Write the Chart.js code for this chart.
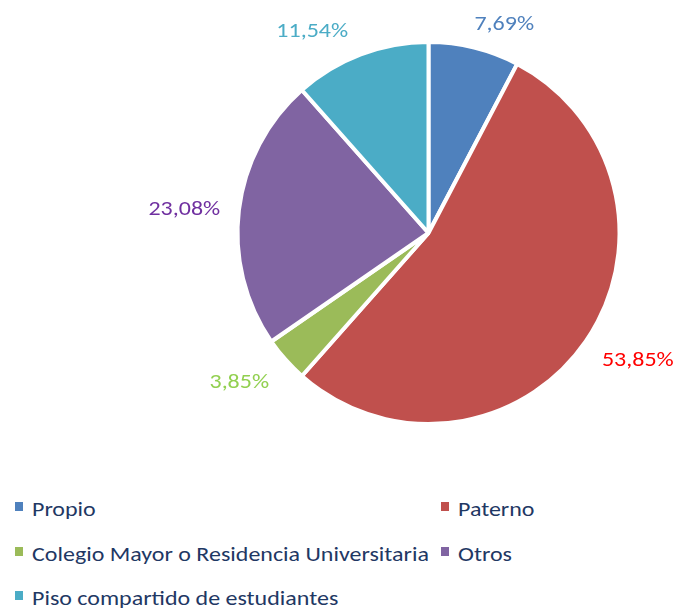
<!DOCTYPE html>
<html>
<head>
<meta charset="utf-8">
<script src="https://cdn.jsdelivr.net/npm/chart.js@4"></script>
<style>
    body { margin: 0; background: #fff; width: 677px; height: 610px; position: relative; overflow: hidden; }
    #pie { position: absolute; left: 0; top: 0; }
    .legend-item { position: absolute; height: 20px; }
    .legend-box { position: absolute; width: 8px; height: 9px; }
    .legend-text {
        position: absolute; white-space: nowrap;
        font-family: Carlito, Calibri, sans-serif; font-size: 20.5px; line-height: 20px;
        color: #1F3864; transform: scaleX(1.17); transform-origin: left center;
    }
</style>
</head>
<body>
<canvas id="pie" width="677" height="466"></canvas>
<div id="legend"></div>
<script>
const CATEGORIES = ["Propio", "Paterno", "Colegio Mayor o Residencia Universitaria", "Otros", "Piso compartido de estudiantes"];
const PERCENTAGES = [7.69, 53.85, 3.85, 23.08, 11.54];

const SLICE_COLORS = ["#4F81BD", "#C0504D", "#9BBB59", "#8064A2", "#4BACC6"];
const LABEL_COLORS = ["#4F81BD", "#FF0000", "#92D050", "#7030A0", "#4BACC6"];
// extra shift for each data label, the way the spreadsheet pushed them apart
const LABEL_NUDGE = [[21, -10], [16, 10], [-18, 12], [-11, 0], [-33, -10]];

const FONT = "20.5px Carlito, Calibri, sans-serif";
const STRETCH = 1.17;

function fmt(v) {
    return v.toFixed(2).replace(".", ",") + "%";
}

const outsideLabels = {
    id: "outsideLabels",
    afterDatasetsDraw(chart) {
        const ctx = chart.ctx;
        const arcs = chart.getDatasetMeta(0).data;
        ctx.save();
        ctx.font = FONT;
        arcs.forEach((arc, i) => {
            const p = arc.getProps(["x", "y", "startAngle", "endAngle", "outerRadius"], true);
            const mid = (p.startAngle + p.endAngle) / 2;
            const dx = Math.cos(mid), dy = Math.sin(mid);
            const text = fmt(PERCENTAGES[i]);
            const w = ctx.measureText(text).width * STRETCH;
            const r = p.outerRadius - 4 + 12;
            const cx = p.x + r * dx + dx * w / 2 + LABEL_NUDGE[i][0];
            const cy = p.y + r * dy + dy * 6.5 + LABEL_NUDGE[i][1];
            ctx.save();
            ctx.translate(cx, cy + 6.6);
            ctx.scale(STRETCH, 1);
            ctx.fillStyle = LABEL_COLORS[i];
            ctx.textAlign = "center";
            ctx.textBaseline = "alphabetic";
            ctx.fillText(text, 0, 0);
            ctx.restore();
        });
        ctx.restore();
    }
};

new Chart(document.getElementById("pie"), {
    type: "pie",
    data: {
        labels: CATEGORIES,
        datasets: [{
            data: PERCENTAGES,
            backgroundColor: SLICE_COLORS,
            borderColor: "#FFFFFF",
            borderWidth: 4,
        }]
    },
    options: {
        responsive: false,
        animation: false,
        layout: { padding: { left: 180, right: 0, top: 40, bottom: 40 } },
        plugins: {
            legend: { display: false },
            tooltip: { enabled: false }
        }
    },
    plugins: [outsideLabels]
});

// legend: two columns, filled row by row
const legendCols = [15, 441];
const legendTop = 502;
const legendStep = 44.5;
const legend = document.getElementById("legend");
CATEGORIES.forEach((name, i) => {
    const col = i % 2, row = Math.floor(i / 2);
    const x = legendCols[col], y = legendTop + row * legendStep;
    const box = document.createElement("div");
    box.className = "legend-box";
    box.style.left = x + "px";
    box.style.top = y + "px";
    box.style.background = SLICE_COLORS[i];
    legend.appendChild(box);
    const label = document.createElement("div");
    label.className = "legend-text";
    label.style.left = (x + 17) + "px";
    label.style.top = (y - 3) + "px";
    label.innerText = name;
    legend.appendChild(label);
});
</script>
</body>
</html>
